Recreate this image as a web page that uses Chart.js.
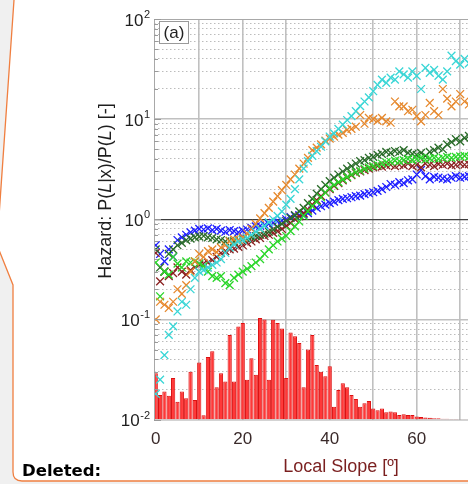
<!DOCTYPE html>
<html>
<head>
<meta charset="utf-8">
<script src="https://cdn.jsdelivr.net/npm/chart.js@4.4.1/dist/chart.umd.min.js"></script>
<style>
  html, body { margin: 0; padding: 0; }
  body { width: 468px; height: 484px; overflow: hidden; position: relative; background: #f0f0f0;
         font-family: "Liberation Sans", Arial, sans-serif; }
  #balloon { position: absolute; left: 0; top: 0; }
  #chart-wrap { position: absolute; left: 0; top: 0; width: 560px; height: 484px; }
  #deleted { position: absolute; left: 22px; top: 461px; font-family: "DejaVu Sans", Verdana, sans-serif;
             font-weight: bold; font-size: 16.5px; color: #000; }
</style>
</head>
<body>
<svg id="balloon" width="468" height="484">
  <path d="M 600 -10 L 24 -10 Q 14 -10 14 0 L -3 245 L 13 285 L 13 472 Q 13 481 22 481 L 600 481 Z"
        fill="#fff" stroke="#f07f40" stroke-width="1.3"/>
</svg>
<div id="chart-wrap"><canvas id="hazardChart"></canvas></div>
<div id="deleted">Deleted:</div>

<script>
// slope bins [deg]
const slopes = [0,1,2,3,4,5,6,7,8,9,10,11,12,13,14,15,16,17,18,19,20,21,22,23,24,25,26,27,28,29,
  30,31,32,33,34,35,36,37,38,39,40,41,42,43,44,45,46,47,48,49,50,51,52,53,54,55,56,57,58,59,
  60,61,62,63,64,65,66,67,68,69,70,71,72];

// hazard ratios, one array per landslide inventory
const hazardCyan = [0.018,0.025,0.044,0.07,0.085,0.12,0.15,0.14,0.2,0.26,
  0.3,0.31,0.33,0.35,0.37,0.4,0.46,0.52,0.56,0.6,
  0.62,0.65,0.7,0.75,0.8,0.86,0.93,1.0,1.08,1.2,
  1.4,1.6,2.0,2.5,3.2,3.8,4.3,4.8,5.3,6.0,
  6.7,7.2,8.0,8.8,9.8,10.7,12.0,13.5,15.0,16.5,
  19.0,22.0,24.8,23.0,26.0,24.8,30.0,28.0,26.0,30.0,
  27.0,20.0,32.5,29.0,31.0,27.0,24.8,30.0,43.0,38.0,35.0,40.0,36.0];
const hazardOrange = [0.1,0.15,0.14,0.13,0.15,0.2,0.18,0.22,0.3,0.38,
  0.45,0.42,0.48,0.5,0.47,0.52,0.55,0.6,0.63,0.62,
  0.66,0.72,0.8,0.9,1.02,1.15,1.3,1.5,1.7,1.95,
  2.2,2.5,2.8,3.2,3.6,4.1,4.9,5.2,5.6,6.1,
  6.4,6.7,7.0,7.3,7.8,8.0,8.4,11.0,9.0,10.3,
  10.0,9.6,10.3,9.5,9.2,15.0,13.4,13.4,12.0,12.4,
  10.7,9.5,11.0,14.5,12.0,11.0,20.0,16.0,13.4,15.0,17.8,15.0,14.0];
const hazardLime = [0.37,0.17,0.3,0.28,0.42,0.36,0.33,0.38,0.37,0.38,
  0.36,0.34,0.3,0.27,0.26,0.27,0.23,0.22,0.26,0.28,
  0.3,0.32,0.34,0.37,0.4,0.45,0.5,0.55,0.6,0.64,
  0.68,0.76,0.85,0.95,1.08,1.2,1.35,1.5,1.65,1.85,
  2.05,2.2,2.35,2.5,2.65,2.8,2.95,3.05,3.2,3.3,
  3.4,3.5,3.6,3.7,3.75,3.85,3.8,3.9,4.0,3.9,
  4.0,4.1,3.95,4.05,4.1,4.0,4.1,4.2,4.1,4.2,4.25,4.3,4.2];
const hazardForest = [0.5,0.33,0.3,0.45,0.5,0.55,0.58,0.62,0.64,0.66,
  0.67,0.68,0.66,0.65,0.63,0.62,0.6,0.61,0.6,0.62,
  0.63,0.64,0.66,0.68,0.7,0.72,0.75,0.79,0.84,0.9,
  0.96,1.03,1.1,1.2,1.3,1.45,1.6,1.8,2.0,2.2,
  2.4,2.6,2.8,3.0,3.2,3.4,3.6,3.8,3.9,4.1,
  4.2,4.4,4.5,4.7,4.6,4.8,4.7,4.9,4.6,4.5,
  4.4,4.6,4.3,4.7,4.9,5.2,5.0,5.6,5.9,6.3,6.0,6.5,6.8];
const hazardMaroon = [0.46,0.24,0.3,0.27,0.29,0.33,0.3,0.28,0.31,0.33,
  0.35,0.36,0.37,0.39,0.42,0.46,0.48,0.5,0.51,0.53,
  0.55,0.58,0.6,0.63,0.65,0.68,0.7,0.73,0.76,0.8,
  0.86,0.92,1.0,1.07,1.15,1.25,1.4,1.55,1.7,1.85,
  2.0,2.15,2.3,2.45,2.6,2.75,2.9,3.0,3.1,3.2,
  3.3,3.4,3.35,3.45,3.5,3.4,3.5,3.45,3.6,3.4,
  3.5,3.3,3.6,3.5,3.4,3.55,3.5,3.6,3.45,3.5,3.6,3.5,3.55];
const hazardBlue = [0.55,0.45,0.38,0.5,0.42,0.62,0.66,0.7,0.74,0.77,
  0.8,0.79,0.81,0.78,0.8,0.77,0.75,0.78,0.76,0.74,
  0.77,0.79,0.82,0.85,0.86,0.88,0.9,0.92,0.95,0.97,
  1.0,1.05,1.08,1.1,1.12,1.15,1.22,1.3,1.35,1.4,
  1.45,1.5,1.55,1.6,1.62,1.66,1.7,1.72,1.78,1.82,
  1.86,1.92,2.0,2.1,2.25,2.2,2.35,2.3,2.45,2.5,
  2.8,3.1,2.7,2.5,2.65,2.6,2.55,2.5,2.6,2.7,2.6,2.65,2.7];

// relative frequency of slopes (histogram)
const slopeHistogram = [0.029,0.0176,0.019,0.0173,0.026,0.015,0.019,0.0163,0.030,0.0157,
  0.037,0.011,0.042,0.048,0.021,0.029,0.024,0.070,0.024,0.085,
  0.092,0.025,0.041,0.028,0.103,0.10,0.025,0.099,0.092,0.081,
  0.026,0.074,0.068,0.058,0.021,0.050,0.070,0.035,0.030,0.027,
  0.034,0.0134,0.0197,0.023,0.021,0.0176,0.016,0.0134,0.0145,0.0153,
  0.0129,0.0124,0.0129,0.0118,0.0120,0.0118,0.0111,0.0113,0.0111,0.0111,
  0.0107,0.0106,0.0105,0.0104,0.0103,0.0103,0.0102,0.0102,0.0101,0.0101,0.01008,0.01006,0.01005];

const yTickValues = [0.01, 0.1, 1, 10, 100];
const yTickExponents = ['-2', '-1', '0', '1', '2'];
const xTickLabels = [0, 20, 40, 60, 80];

const FONT = '"Liberation Sans", Arial, sans-serif';

const toPoints = (vals) => vals.map((v, i) => ({ x: slopes[i], y: v }));
const isDecade = (v) => Math.abs(Math.log10(v) - Math.round(Math.log10(v))) < 1e-6;

function crosses(label, values, color) {
  return {
    label, data: toPoints(values),
    pointStyle: 'crossRot', pointRadius: 5.5, pointBorderWidth: 1.3,
    borderColor: color, backgroundColor: color, showLine: false
  };
}

const figureText = {
  id: 'figureText',
  afterDraw(chart) {
    const { ctx, chartArea: a, scales: { y } } = chart;
    ctx.save();

    // plot frame + inward ticks
    ctx.strokeStyle = '#a8a8a8';
    ctx.lineWidth = 1;
    ctx.strokeRect(a.left + 0.5, a.top + 0.5, a.right - a.left, a.bottom - a.top);
    ctx.strokeStyle = '#9a9a9a';
    y.ticks.forEach(t => {
      const py = Math.round(y.getPixelForValue(t.value)) + 0.5;
      ctx.beginPath();
      ctx.moveTo(a.left, py);
      ctx.lineTo(a.left + (isDecade(t.value) ? 7 : 4), py);
      ctx.stroke();
    });

    // y tick labels 10^n
    ctx.fillStyle = '#1e1e1e';
    ctx.textBaseline = 'alphabetic';
    yTickValues.forEach((v, i) => {
      const py = y.getPixelForValue(v);
      ctx.font = '11px ' + FONT;
      const supW = ctx.measureText(yTickExponents[i]).width;
      ctx.textAlign = 'left';
      ctx.fillText(yTickExponents[i], 150 - supW, py - 1);
      ctx.font = '17px ' + FONT;
      ctx.textAlign = 'right';
      ctx.fillText('10', 150 - supW - 0.5, py + 6.5);
    });

    // (a) label box
    ctx.fillStyle = '#fff';
    ctx.fillRect(159, 21, 29, 22);
    ctx.strokeStyle = '#9a9a9a';
    ctx.strokeRect(159.5, 21.5, 29, 22);
    ctx.fillStyle = '#222';
    ctx.font = '17px ' + FONT;
    ctx.textAlign = 'center';
    ctx.textBaseline = 'middle';
    ctx.fillText('(a)', 174, 33);

    // y title with italic L
    const parts = [['Hazard: P(', false], ['L', true], ['|x)/P(', false], ['L', true], [') [-]', false]];
    const fontFor = (it) => (it ? 'italic ' : '') + '18px ' + FONT;
    let total = 0;
    parts.forEach(([s, it]) => { ctx.font = fontFor(it); total += ctx.measureText(s).width; });
    ctx.translate(106, 191);
    ctx.rotate(-Math.PI / 2);
    ctx.textAlign = 'left';
    ctx.fillStyle = '#1e1e1e';
    let cx = -total / 2;
    parts.forEach(([s, it]) => {
      ctx.font = fontFor(it);
      ctx.fillText(s, cx, 0);
      cx += ctx.measureText(s).width;
    });
    ctx.setTransform(1, 0, 0, 1, 0, 0);

    // x title
    ctx.font = '18px ' + FONT;
    ctx.fillStyle = '#7a1f1f';
    ctx.textAlign = 'center';
    ctx.fillText('Local Slope [\u00ba]', 341, 467);
    ctx.restore();
  }
};

new Chart(document.getElementById('hazardChart'), {
  type: 'scatter',
  data: {
    datasets: [
      crosses('cyan', hazardCyan, '#3ad6d6'),
      crosses('orange', hazardOrange, '#e6892e'),
      crosses('lime', hazardLime, '#2bd62b'),
      crosses('forest', hazardForest, '#2b6d2b'),
      crosses('maroon', hazardMaroon, '#8b2222'),
      crosses('blue', hazardBlue, '#1f1fff'),
      {
        type: 'bar', label: 'slopes', data: toPoints(slopeHistogram),
        backgroundColor: '#ff3838', borderColor: '#dc1010', borderWidth: 1,
        barPercentage: 0.97, categoryPercentage: 1
      }
    ]
  },
  options: {
    responsive: true, maintainAspectRatio: false, animation: false, events: [],
    layout: { padding: { top: 19, left: 0, right: 12.8, bottom: 0 } },
    plugins: { legend: { display: false }, tooltip: { enabled: false } },
    scales: {
      x: {
        type: 'linear', min: -0.4, max: 90, offset: false,
        afterFit: (s) => { s.height = 64.5; },
        ticks: {
          stepSize: 10, includeBounds: false, padding: 10,
          color: '#3a2a2a', font: { size: 17, family: FONT },
          callback: (v) => xTickLabels.includes(v) ? String(v) : ''
        },
        grid: {
          drawTicks: false, lineWidth: 1.6, offset: false,
          color: (c) => (c.tick && c.tick.value > 0 && c.tick.value % 10 === 0) ? '#c0c0c0' : 'rgba(0,0,0,0)'
        },
        border: { display: false }
      },
      y: {
        type: 'logarithmic', min: 0.01, max: 100,
        afterFit: (s) => { s.width = 154; },
        afterBuildTicks: (s) => {
          const ticks = [];
          for (let e = -2; e < 2; e++) {
            for (let m = 1; m < 10; m++) ticks.push({ value: parseFloat((m * Math.pow(10, e)).toPrecision(3)) });
          }
          ticks.push({ value: 100 });
          s.ticks = ticks;
        },
        ticks: { display: false },
        grid: {
          drawTicks: false,
          color: (c) => {
            const v = c.tick && c.tick.value;
            if (!v || v === 0.01 || v === 100) return 'rgba(0,0,0,0)';
            if (v === 1) return '#3c3c3c';
            return isDecade(v) ? '#c0c0c0' : '#bcbcbc';
          },
          lineWidth: (c) => {
            const v = c.tick && c.tick.value;
            if (v === 1) return 1.2;
            return v && isDecade(v) ? 1.6 : 1;
          }
        },
        border: {
          display: false,
          dash: (c) => (c.tick && !isDecade(c.tick.value)) ? [1.5, 2.5] : []
        }
      }
    }
  },
  plugins: [figureText]
});
</script>
</body>
</html>
